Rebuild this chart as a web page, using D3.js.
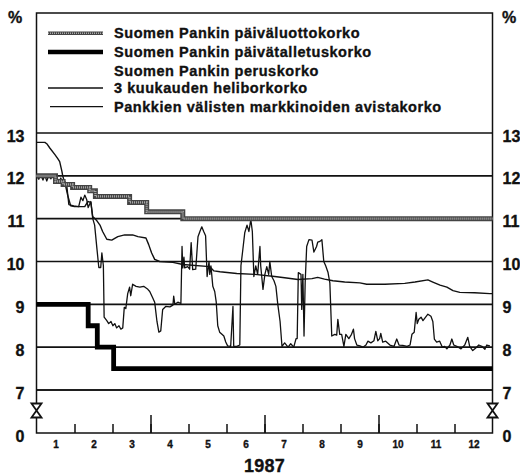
<!DOCTYPE html>
<html><head><meta charset="utf-8">
<script src="https://cdn.jsdelivr.net/npm/d3@7"></script>
<style>
html,body{margin:0;padding:0;background:#fff;}
svg{display:block;font-family:"Liberation Sans",Arial,Helvetica,sans-serif;font-weight:bold;}
svg text{stroke:#111;stroke-width:0.35px;}
</style></head>
<body><svg id="c" width="520" height="476"></svg>
<script>
// ---------- data (time in months from 1 Jan 1987, values in %) ----------
const seriesNames = [
  "Suomen Pankin päiväluottokorko",
  "Suomen Pankin päivätalletuskorko",
  "Suomen Pankin peruskorko",
  "3 kuukauden heliborkorko",
  "Pankkien välisten markkinoiden avistakorko"
];
const monthLabels = ["1","2","3","4","5","6","7","8","9","10","11","12"];
const yTickValues = [0,7,8,9,10,11,12,13];
const yearLabel = "1987";

const luottoT = [0, 0.5, 0.7, 0.95, 1.4, 1.55, 2.45, 2.9, 3.85, 12];
const luottoV = [12.0, 11.87, 11.8, 11.73, 11.65, 11.52, 11.38, 11.16, 11.0, 11.0];

const talletusT = [0, 1.36, 1.60, 2.03, 12];
const talletusV = [9.0, 8.5, 8.0, 7.5, 7.5];

const perusT = [0, 12];
const perusV = [7.0, 7.0];

const heliborT = [0,0.22,0.27,0.35,0.48,0.56,0.61,0.67,0.69,0.77,0.82,0.9,1.0,1.27,1.35,1.43,1.48,1.59,1.67,1.74,1.85,1.98,2.14,2.32,2.53,2.67,2.88,2.95,3.03,3.11,3.24,3.59,3.85,4.56,4.67,4.83,5.27,5.75,6.27,6.53,6.88,7.25,7.4,7.58,7.8,8.11,8.51,8.69,9.17,9.69,9.96,10.3,10.43,10.62,10.8,10.96,11.14,11.53,11.93,12];
const heliborV = [12.78,12.78,12.75,12.65,12.5,12.4,12.33,12.1,12.0,11.75,11.55,11.3,11.28,11.28,11.4,11.38,11.05,10.95,10.85,10.7,10.52,10.5,10.58,10.62,10.62,10.58,10.55,10.4,10.2,10.05,10.0,9.98,9.93,9.88,9.78,9.76,9.72,9.7,9.65,9.62,9.58,9.6,9.63,9.59,9.55,9.52,9.5,9.47,9.47,9.49,9.52,9.57,9.52,9.45,9.4,9.32,9.28,9.27,9.25,9.25];

const avistaT = [0,0.06,0.11,0.17,0.22,0.27,0.32,0.38,0.43,0.48,0.53,0.59,0.64,0.69,0.74,0.8,0.85,0.98,1.11,1.17,1.22,1.27,1.32,1.36,1.43,1.48,1.53,1.59,1.64,1.69,1.72,1.76,1.78,1.85,1.9,1.96,2.01,2.06,2.11,2.17,2.22,2.27,2.31,2.35,2.4,2.45,2.48,2.53,2.62,2.72,2.82,2.93,2.98,3.06,3.11,3.17,3.22,3.27,3.32,3.4,3.51,3.59,3.61,3.64,3.72,3.8,3.83,3.85,3.88,3.9,3.98,4.03,4.07,4.11,4.19,4.25,4.3,4.35,4.4,4.45,4.49,4.54,4.56,4.59,4.64,4.69,4.73,4.77,4.82,4.88,4.93,4.98,5.03,5.11,5.17,5.19,5.27,5.35,5.38,5.43,5.48,5.54,5.59,5.64,5.68,5.72,5.77,5.82,5.88,5.9,5.96,6.01,6.06,6.11,6.14,6.19,6.25,6.3,6.35,6.41,6.46,6.53,6.62,6.69,6.77,6.83,6.86,6.89,6.96,6.98,7.01,7.04,7.07,7.11,7.17,7.25,7.3,7.37,7.4,7.46,7.51,7.56,7.61,7.67,7.72,7.77,7.85,7.9,7.93,7.98,8.03,8.09,8.14,8.22,8.29,8.34,8.37,8.43,8.51,8.59,8.67,8.72,8.8,8.88,8.93,8.98,9.03,9.06,9.11,9.19,9.3,9.41,9.48,9.54,9.64,9.75,9.83,9.88,9.94,9.99,10.02,10.06,10.12,10.17,10.22,10.3,10.38,10.43,10.47,10.53,10.61,10.68,10.74,10.8,10.88,10.93,10.98,11.06,11.17,11.27,11.35,11.4,11.48,11.56,11.64,11.72,11.8,11.85,11.93];
const avistaV = [12.0,11.92,12.03,11.9,12.02,11.88,12.0,11.93,12.03,11.9,11.98,11.85,11.95,11.8,11.88,11.75,11.33,11.3,11.28,11.5,11.42,11.55,11.45,11.26,11.4,11.0,10.85,10.3,9.86,9.86,10.2,9.9,8.7,8.62,8.55,8.6,8.5,8.55,8.45,8.5,8.42,8.45,8.93,8.9,9.25,9.4,9.2,9.47,9.42,9.4,9.42,9.35,9.3,9.15,9.05,8.6,8.35,8.38,8.88,8.95,8.94,8.98,9.19,9.0,9.05,9.02,10.35,9.85,10.1,9.85,9.88,9.82,10.44,9.81,9.82,10.58,10.7,10.81,10.7,10.6,9.65,10.0,9.7,9.9,9.42,9.3,9.05,8.5,8.35,8.3,8.26,8.12,8.03,8.02,8.95,8.02,8.02,8.05,9.9,10.28,10.67,10.85,10.7,10.98,10.7,9.65,9.9,9.7,10.35,9.9,9.35,9.7,9.88,9.7,10.0,9.65,9.55,9.42,9.0,8.6,8.02,8.1,8.0,8.08,8.0,8.2,8.2,9.74,9.7,8.88,9.7,8.26,9.5,10.35,10.51,10.5,10.22,10.35,10.45,10.47,10.51,10.0,9.9,9.75,9.5,8.26,8.3,8.28,8.65,8.3,8.3,8.02,8.3,8.2,8.3,8.42,8.2,8.05,8.03,8.0,8.05,8.14,8.1,8.15,8.37,8.15,8.2,8.32,8.12,8.14,8.05,8.02,8.19,8.05,8.04,8.02,8.05,8.3,8.35,8.81,8.55,8.65,8.7,8.62,8.68,8.77,8.72,8.6,8.19,8.12,8.14,8.0,8.02,7.96,8.05,8.19,8.05,8.02,7.96,8.05,8.23,8.02,7.92,7.98,8.05,8.02,7.95,8.05,8.03];

// ---------- layout ----------
const L = 36.5, R = 492.5, T = 13, B = 433;
const svg = d3.select("#c");
const x = d3.scaleLinear().domain([0, 12]).range([L, R]);
const y = d3.scaleLinear().domain([0, 7, 13]).range([B, 390, 133]);

const zip = (ts, vs) => ts.map((t, i) => [t, vs[i]]);

// gridlines
svg.append("g").selectAll("line").data([7,8,9,10,11,12,13]).join("line")
  .attr("x1", L).attr("x2", R).attr("y1", d => y(d)).attr("y2", d => y(d))
  .attr("stroke", "#111").attr("stroke-width", 1.6);

// frame
svg.append("rect").attr("x", L).attr("y", T).attr("width", R - L).attr("height", B - T)
  .attr("fill", "none").attr("stroke", "#111").attr("stroke-width", 1.5);

// axis break symbols
[L, R].forEach(cx => {
  const cy = 410.5;
  svg.append("path")
    .attr("d", `M${cx-5},${cy-7} L${cx+5},${cy-7} L${cx},${cy} L${cx+5},${cy+7} L${cx-5},${cy+7} L${cx},${cy} Z`)
    .attr("fill", "#fff").attr("stroke", "#111").attr("stroke-width", 1.8);
});

// x ticks (upward from bottom axis)
svg.append("g").attr("transform", `translate(0,${B})`)
  .call(d3.axisTop(x).tickValues(d3.range(1, 12)).tickSize(9).tickFormat(""))
  .call(g => g.select(".domain").remove())
  .call(g => g.selectAll("line").attr("stroke", "#111").attr("stroke-width", 1.5));
svg.append("g").attr("transform", `translate(0,${B})`)
  .call(d3.axisTop(x).tickValues([3, 6, 9]).tickSize(18).tickFormat(""))
  .call(g => g.select(".domain").remove())
  .call(g => g.selectAll("line").attr("stroke", "#111").attr("stroke-width", 1.5));

// month labels
svg.append("g").attr("transform", `translate(0,${B})`)
  .call(d3.axisBottom(x).tickValues(monthLabels.map((m, i) => i + 0.5)).tickSize(0).tickPadding(8)
    .tickFormat((d, i) => monthLabels[i]))
  .call(g => g.select(".domain").remove())
  .call(g => g.selectAll("text").attr("font-size", 10).attr("font-weight", "bold")
    .attr("font-family", "Liberation Sans, Arial, sans-serif").attr("fill", "#111"));

svg.append("text").attr("x", (L + R) / 2).attr("y", 472).attr("text-anchor", "middle")
  .attr("font-size", 18).attr("letter-spacing", 0.3).attr("fill", "#111").text(yearLabel);

// y labels
const yStyle = g => {
  g.select(".domain").remove();
  g.selectAll("text").attr("font-size", 16).attr("font-weight", "bold")
    .attr("font-family", "Liberation Sans, Arial, sans-serif").attr("fill", "#111")
    .attr("dy", "0.5em");
};
svg.append("g").attr("transform", `translate(${L},0)`)
  .call(d3.axisLeft(y).tickValues(yTickValues).tickSize(0).tickPadding(12).tickFormat(d3.format("d")))
  .call(yStyle);
svg.append("g").attr("transform", `translate(${R},0)`)
  .call(d3.axisRight(y).tickValues(yTickValues).tickSize(0).tickPadding(10).tickFormat(d3.format("d")))
  .call(yStyle);

svg.append("text").attr("x", 15).attr("y", 23).attr("text-anchor", "middle").attr("font-size", 16).attr("fill", "#111").text("%");
svg.append("text").attr("x", 509).attr("y", 23).attr("text-anchor", "middle").attr("font-size", 16).attr("fill", "#111").text("%");

// series
const lineLin = d3.line().x(d => x(d[0])).y(d => y(d[1]));
const lineStep = d3.line().x(d => x(d[0])).y(d => y(d[1])).curve(d3.curveStepAfter);
const plot = svg.append("g");

plot.append("path").datum(zip(perusT, perusV)).attr("d", lineLin)
  .attr("fill", "none").attr("stroke", "#111").attr("stroke-width", 1.6);
plot.append("path").datum(zip(avistaT, avistaV)).attr("d", lineLin)
  .attr("fill", "none").attr("stroke", "#111").attr("stroke-width", 1.3).attr("stroke-linejoin", "round");
plot.append("path").datum(zip(heliborT, heliborV)).attr("d", lineLin)
  .attr("fill", "none").attr("stroke", "#111").attr("stroke-width", 1.4).attr("stroke-linejoin", "round");
const luotto = zip(luottoT, luottoV);
plot.append("path").datum(luotto).attr("d", lineStep)
  .attr("fill", "none").attr("stroke", "#444").attr("stroke-width", 5);
plot.append("path").datum(luotto).attr("d", lineStep)
  .attr("fill", "none").attr("stroke", "#aaa").attr("stroke-width", 2.2).attr("stroke-dasharray", "1,1");
plot.append("path").datum(zip(talletusT, talletusV)).attr("d", lineStep)
  .attr("fill", "none").attr("stroke", "#000").attr("stroke-width", 4.8);

// legend
const legY = [33.3, 52, 70.5, 88, 106.7];
const leg = svg.append("g");
seriesNames.forEach((name, i) => {
  const ly = legY[i];
  if (i === 0) {
    leg.append("line").attr("x1", 48).attr("x2", 103).attr("y1", ly).attr("y2", ly).attr("stroke", "#444").attr("stroke-width", 3.5);
    leg.append("line").attr("x1", 48).attr("x2", 103).attr("y1", ly).attr("y2", ly).attr("stroke", "#aaa").attr("stroke-width", 1.5).attr("stroke-dasharray", "1,1");
  } else if (i === 1) {
    leg.append("line").attr("x1", 48).attr("x2", 103).attr("y1", ly).attr("y2", ly).attr("stroke", "#000").attr("stroke-width", 4.5);
  } else if (i === 3) {
    leg.append("line").attr("x1", 48).attr("x2", 103).attr("y1", ly).attr("y2", ly).attr("stroke", "#111").attr("stroke-width", 1.4);
  } else if (i === 4) {
    leg.append("line").attr("x1", 50).attr("x2", 103).attr("y1", ly).attr("y2", ly).attr("stroke", "#111").attr("stroke-width", 1.2);
  }
  leg.append("text").attr("x", 114).attr("y", ly + 5).attr("font-size", 14.5).attr("letter-spacing", 0.55)
    .attr("fill", "#111").text(name);
});
</script>
</body></html>
